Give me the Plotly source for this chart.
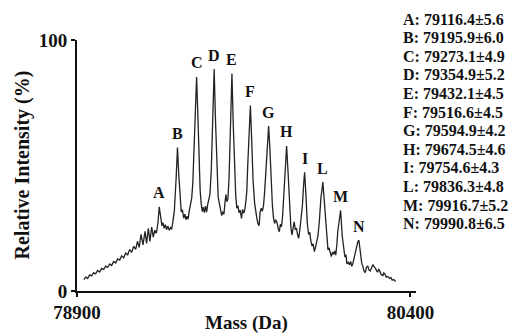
import plotly.graph_objects as go

# Spectrum trace: (mass in Da, relative intensity in %)
spectrum = [
    (78931, 4.5), (78940, 5.6), (78948, 5.0), (78957, 6.4), (78966, 6.0), (78975, 7.3),
    (78984, 6.8), (78993, 8.2), (79002, 7.6), (79011, 9.0), (79020, 8.6), (79029, 9.9),
    (79038, 9.4), (79047, 10.8), (79056, 10.2), (79065, 11.8), (79074, 11.2), (79083, 12.8),
    (79092, 12.3), (79101, 14.0), (79110, 13.2), (79119, 15.1), (79128, 14.4), (79137, 16.5),
    (79146, 15.4), (79155, 17.8), (79164, 16.6), (79172, 19.8), (79180, 17.4), (79188, 22.6),
    (79197, 18.4), (79206, 23.8), (79213, 19.0), (79221, 25.0), (79228, 19.8), (79236, 25.5),
    (79243, 21.5), (79250, 24.2), (79257, 23.0), (79264, 27.0), (79270, 33.5),
    (79276, 29.0), (79282, 26.0), (79287, 27.2), (79292, 25.0), (79298, 26.4), (79303, 24.5),
    (79309, 25.8), (79315, 24.2), (79321, 25.2), (79326, 24.6), (79332, 28.0), (79338, 32.0),
    (79346, 45.0), (79352, 57.2),
    (79358, 46.0), (79364, 36.0), (79369, 31.5), (79374, 32.4), (79380, 29.0), (79385, 30.6),
    (79390, 28.4), (79395, 29.8), (79400, 28.6), (79405, 32.0), (79411, 35.5), (79416, 37.0),
    (79421, 43.0), (79427, 58.0), (79433, 76.0), (79438, 85.3),
    (79443, 72.0), (79448, 55.0), (79454, 40.0), (79459, 34.5), (79464, 31.6), (79468, 33.4),
    (79473, 31.2), (79478, 33.8), (79483, 31.4), (79488, 34.5), (79493, 36.2), (79498, 38.5),
    (79504, 48.0), (79510, 70.0), (79517, 88.4),
    (79523, 68.0), (79529, 48.0), (79535, 37.5), (79541, 34.6), (79546, 32.0), (79551, 30.0),
    (79556, 31.6), (79561, 30.6), (79566, 35.5), (79570, 38.4), (79574, 35.6), (79579, 36.8),
    (79584, 45.0), (79590, 70.0), (79597, 86.6),
    (79603, 66.0), (79609, 47.0), (79614, 38.1), (79619, 33.0), (79624, 34.0), (79629, 31.2),
    (79634, 32.2), (79640, 28.9), (79645, 32.5), (79650, 31.0), (79655, 32.4), (79660, 36.0),
    (79664, 40.0), (79668, 50.0), (79674, 64.0), (79680, 73.9),
    (79686, 60.0), (79692, 44.0), (79699, 35.0), (79704, 30.5), (79709, 29.0), (79714, 26.8),
    (79719, 26.0), (79724, 31.5), (79729, 33.0), (79734, 31.8), (79739, 34.0), (79744, 39.4),
    (79752, 51.3), (79757, 60.0), (79762, 65.7),
    (79767, 58.0), (79773, 44.0), (79779, 34.1), (79784, 29.0), (79789, 26.9), (79794, 28.4),
    (79800, 27.2), (79805, 25.0), (79810, 23.6), (79815, 26.6), (79820, 25.6), (79825, 30.0),
    (79829, 36.0), (79834, 46.0), (79843, 57.8),
    (79849, 48.0), (79856, 34.0), (79862, 25.5), (79867, 22.3), (79872, 26.0), (79877, 27.6),
    (79882, 24.4), (79887, 25.0), (79892, 22.6), (79897, 21.0), (79902, 24.0), (79907, 27.5),
    (79914, 34.1), (79920, 43.0), (79924, 47.3),
    (79930, 38.0), (79936, 27.0), (79942, 22.5), (79947, 23.4), (79952, 20.0), (79957, 18.0),
    (79962, 18.8), (79968, 15.7), (79973, 17.5), (79979, 19.6), (79984, 22.0), (79990, 27.5),
    (79997, 36.8), (80006, 43.4),
    (80012, 36.0), (80018, 26.0), (80024, 19.0), (80029, 16.4), (80034, 17.2), (80039, 14.6),
    (80044, 13.7), (80049, 15.5), (80054, 14.6), (80059, 16.0), (80064, 14.3), (80069, 18.5),
    (80073, 23.6), (80081, 29.0), (80086, 32.1),
    (80093, 22.0), (80100, 16.0), (80105, 13.6), (80110, 14.4), (80114, 10.8), (80120, 11.6),
    (80126, 10.4), (80131, 11.8), (80136, 9.8), (80141, 11.0), (80147, 13.5), (80152, 14.5),
    (80156, 17.0), (80163, 19.5), (80168, 20.3),
    (80175, 15.0), (80181, 11.0), (80186, 9.8), (80191, 8.0), (80197, 7.3), (80202, 9.4),
    (80208, 10.0), (80213, 8.4), (80219, 8.0), (80225, 9.0), (80231, 10.5), (80237, 9.6),
    (80243, 9.0), (80248, 8.0), (80252, 7.5), (80257, 8.6), (80261, 8.2), (80268, 6.6),
    (80276, 6.2), (80280, 7.2), (80285, 6.8), (80291, 5.5), (80298, 5.8), (80306, 5.0),
    (80312, 5.4), (80318, 4.3), (80325, 4.6), (80333, 3.8),
]
mass = [p[0] for p in spectrum]
intensity = [p[1] for p in spectrum]

# Peak labels and apex positions (as drawn)
peak_labels = ["A", "B", "C", "D", "E", "F", "G", "H", "I", "L", "M", "N"]
apex_mass = [79270, 79352, 79438, 79517, 79597, 79680, 79762, 79843, 79924, 80006, 80086, 80168]
apex_int = [33.5, 57.2, 85.3, 88.4, 86.6, 73.9, 65.7, 57.8, 47.3, 43.4, 32.1, 20.3]

# Listed masses and errors
listed_mass = [79116.4, 79195.9, 79273.1, 79354.9, 79432.1, 79516.6,
               79594.9, 79674.5, 79754.6, 79836.3, 79916.7, 79990.8]
listed_err = [5.6, 6.0, 4.9, 5.2, 4.5, 4.5, 4.2, 4.6, 4.3, 4.8, 5.2, 6.5]

x_ticks = [78900, 80400]
y_ticks = [0, 100]

FONT = "Liberation Serif"
INK = "#111111"

fig = go.Figure()
fig.add_trace(go.Scatter(x=mass, y=intensity, mode="lines",
                         line=dict(color="#222222", width=1.3),
                         hoverinfo="skip", showlegend=False))

annotations = []
for lab, mx, my in zip(peak_labels, apex_mass, apex_int):
    annotations.append(dict(x=mx, y=my, xref="x", yref="y", text=lab,
                            showarrow=False, yanchor="middle", yshift=14,
                            font=dict(family=FONT, size=16, color=INK, weight="bold")))

for i, (lab, m, e) in enumerate(zip(peak_labels, listed_mass, listed_err)):
    annotations.append(dict(x=1, y=1, xref="paper", yref="paper",
                            xanchor="left", yanchor="middle",
                            xshift=-15, yshift=40 - (19 + 18.6 * i),
                            text=f"{lab}: {m:.1f}\u00b1{e:.1f}", showarrow=False,
                            font=dict(family=FONT, size=16, color=INK, weight="bold")))

annotations.append(dict(x=0, y=0.5, xref="paper", yref="paper", text="Relative Intensity (%)",
                        textangle=-90, showarrow=False, xanchor="center", yanchor="middle",
                        xshift=-55, font=dict(family=FONT, size=20, color=INK, weight="bold")))
annotations.append(dict(x=0.5, y=0, xref="paper", yref="paper", text="Mass (Da)",
                        showarrow=False, xanchor="center", yanchor="middle",
                        yshift=-32, font=dict(family=FONT, size=19, color=INK, weight="bold")))

axis_common = dict(showgrid=False, zeroline=False, showline=True, linecolor=INK, linewidth=2,
                   ticks="outside", ticklen=4, tickwidth=2, tickcolor=INK,
                   tickfont=dict(family=FONT, size=19, color=INK, weight="bold"))

fig.update_layout(
    width=513, height=335,
    margin=dict(l=77, r=97, t=40, b=42),
    paper_bgcolor="white", plot_bgcolor="white",
    annotations=annotations,
    xaxis=dict(range=[78900, 80425], tickvals=x_ticks, ticktext=[str(v) for v in x_ticks],
               ticklabelstandoff=-1, **axis_common),
    yaxis=dict(range=[0, 100], tickvals=y_ticks, ticktext=[str(v) for v in y_ticks],
               **axis_common),
)

fig.write_html("out.html", config={"displayModeBar": False},
               post_script="document.body.style.margin='0';")
